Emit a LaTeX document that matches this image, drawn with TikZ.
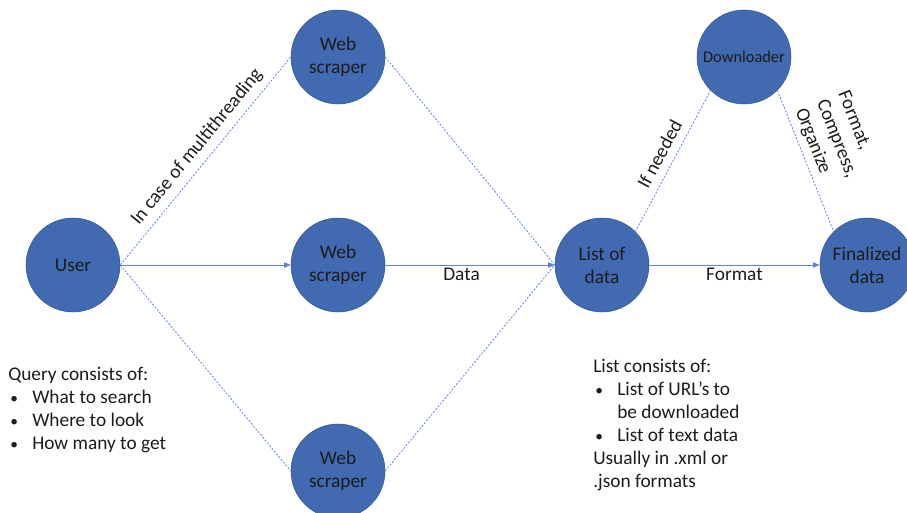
\documentclass[tikz,border=0pt]{standalone}
\usepackage{fontspec}
\setmainfont{Carlito}
\usetikzlibrary{arrows.meta}
\definecolor{nodeblue}{RGB}{65,106,176}
\definecolor{nodeline}{RGB}{50,86,150}
\definecolor{linkblue}{RGB}{91,134,206}
\definecolor{inktext}{RGB}{28,28,28}
\newcommand{\bul}{\makebox[18pt][l]{\hspace{1.5pt}\scalebox{0.8}{\textbullet}}}

\begin{document}
\begin{tikzpicture}[x=0.75pt,y=-0.75pt,
  stage/.style={circle,fill=nodeblue,draw=nodeline,line width=0.4pt,minimum size=70.5pt,inner sep=0pt,align=center,text=inktext,font=\fontsize{14.5}{17.3}\selectfont},
  flow/.style={draw=linkblue,line width=0.7pt,-{Triangle[length=5pt,width=4pt]}},
  maybe/.style={draw=linkblue,line width=0.6pt,dash pattern=on 1.5pt off 1.2pt},
  tag/.style={font=\fontsize{14.5}{17.3}\selectfont,text=inktext},
  note/.style={font=\fontsize{14.5}{17.25}\selectfont,text=inktext,align=left,inner sep=0pt,anchor=north west}]

\useasboundingbox (0,0) rectangle (907,513);

\node[stage] (user) at (73,265) {User};
\node[stage] (scrapeA) at (338,57) {Web\\scraper};
\node[stage] (scrapeB) at (338,265) {Web\\scraper};
\node[stage] (scrapeC) at (338,471) {Web\\scraper};
\node[stage] (listdata) at (602,265) {List of\\data};
\node[stage,font=\fontsize{12.3}{15}\selectfont] (loader) at (744,57) {Downloader};
\node[stage] (final) at (867,265) {Finalized\\data};

\draw[maybe] (user.east) -- node[tag,sloped,above,inner sep=5pt,pos=0.52] {In case of multithreading} (scrapeA.west);
\draw[flow] (user.east) -- (scrapeB.west);
\draw[maybe] (user.east) -- (scrapeC.west);
\draw[maybe] (scrapeA.east) -- (listdata.west);
\draw[flow] (scrapeB.east) -- node[tag,below,inner sep=2pt,pos=0.45] {Data} (listdata.west);
\draw[maybe] (scrapeC.east) -- (listdata.west);
\draw[maybe] (listdata.north east) -- node[tag,sloped,above,inner sep=6pt] {If needed} (loader.south west);
\draw[maybe] (loader.south east) -- node[tag,sloped,above,align=left,inner sep=4pt,pos=0.44] {Format,\\Compress,\\Organize} (final.north west);
\draw[flow] (listdata.east) -- node[tag,below,inner sep=2pt] {Format} (final.west);

\node[note] (query) at (8,367) {Query consists of:\\
  \bul What to search\\
  \bul Where to look\\
  \bul How many to get};
\node[note] (listnote) at (593,359) {List consists of:\\
  \bul List of URL's to\\
  \hspace{18pt}be downloaded\\
  \bul List of text data\\
  Usually in .xml or\\
  .json formats};

\end{tikzpicture}
\end{document}
